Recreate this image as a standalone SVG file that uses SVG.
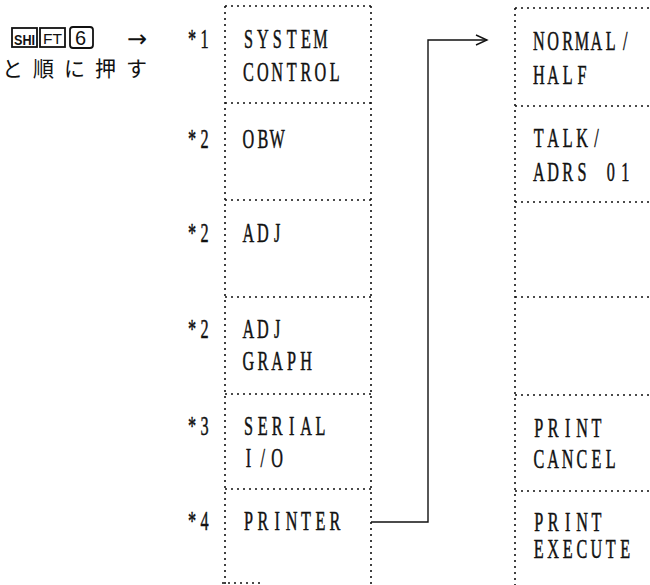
<svg xmlns="http://www.w3.org/2000/svg" width="650" height="585" viewBox="0 0 650 585">
<defs>
<style>
.dot{fill:none;stroke:#111;stroke-width:1.6;stroke-dasharray:2 4}
.t{font-family:"Liberation Serif",serif;font-size:27px;fill:#111;stroke:#111;stroke-width:0.5;text-anchor:middle}
.jp{font-family:"Noto Sans CJK JP",sans-serif;font-size:21px;fill:#111;letter-spacing:10px}
.key{fill:none;stroke:#111;stroke-width:1.8}
.kt{font-family:"Liberation Sans",sans-serif;fill:#111}
.conn{fill:none;stroke:#111;stroke-width:1.4}
</style>
<marker id="arr" markerWidth="14" markerHeight="12" refX="12" refY="6" orient="auto" markerUnits="userSpaceOnUse">
<path d="M1,1 L12,6 L1,11" fill="none" stroke="#111" stroke-width="1.4"/>
</marker>
</defs>
<rect width="650" height="585" fill="#fff"/>

<g id="instruction">
<rect class="key" x="12" y="28" width="25" height="19"/>
<text class="kt" x="14" y="45" font-size="14" font-weight="bold" textLength="21" lengthAdjust="spacingAndGlyphs">SHI</text>
<rect class="key" x="40" y="28" width="25" height="19"/>
<text class="kt" x="43" y="44" font-size="14" textLength="19" lengthAdjust="spacingAndGlyphs">FT</text>
<rect class="key" x="70" y="27" width="23" height="21" rx="3"/>
<text class="kt" x="75" y="45" font-size="20">6</text>
<text x="127" y="47" font-family="DejaVu Sans, sans-serif" font-size="24" fill="#111">→</text>
<text class="jp" x="2" y="76">と順に押す</text>
</g>

<g id="col-left">
<path class="dot" d="M225,6 H371 M225,6 V585 M371,6 V585 M225,103 H371 M225,200 H371 M225,297 H371 M225,394 H371 M225,489 H371 M222,583 H262"/>
</g>

<g id="n1"><g transform="scale(0.6,1)">
<text class="t" x="320 341" y="48">*1</text>
<text class="t" x="414 438 462 486 510 534" y="48">SYSTEM</text>
<text class="t" x="414 438 462 486 510 534 558" y="81">CONTROL</text>
</g></g>
<g id="n2"><g transform="scale(0.6,1)">
<text class="t" x="320 341" y="148">*2</text>
<text class="t" x="414 438 462" y="148">OBW</text>
</g></g>
<g id="n3"><g transform="scale(0.6,1)">
<text class="t" x="320 341" y="242">*2</text>
<text class="t" x="414 438 462" y="242">ADJ</text>
</g></g>
<g id="n4"><g transform="scale(0.6,1)">
<text class="t" x="320 341" y="338">*2</text>
<text class="t" x="414 438 462" y="338">ADJ</text>
<text class="t" x="414 438 462 486 510" y="370">GRAPH</text>
</g></g>
<g id="n5"><g transform="scale(0.6,1)">
<text class="t" x="320 341" y="435">*3</text>
<text class="t" x="414 438 462 486 510 534" y="435">SERIAL</text>
<text class="t" x="414 438 462" y="467">I/O</text>
</g></g>
<g id="n6"><g transform="scale(0.6,1)">
<text class="t" x="320 341" y="530">*4</text>
<text class="t" x="414 438 462 486 510 534 558" y="530">PRINTER</text>
</g></g>

<g id="col-right">
<path class="dot" d="M515,8 H650 M515,8 V585 M515,106 H650 M515,202 H650 M515,297 H650 M515,395 H650 M515,491 H650"/>
</g>
<g id="r1"><g transform="scale(0.6,1)">
<text class="t" x="898 922 946 970 994 1018 1042" y="50">NORMAL/</text>
<text class="t" x="898 922 946 970" y="84">HALF</text>
</g></g>
<g id="r2"><g transform="scale(0.6,1)">
<text class="t" x="898 922 946 970 994" y="147">TALK/</text>
<text class="t" x="898 922 946 970 994 1018 1042" y="181">ADRS 01</text>
</g></g>
<g id="r3"></g>
<g id="r4"></g>
<g id="r5"><g transform="scale(0.6,1)">
<text class="t" x="898 922 946 970 994" y="437">PRINT</text>
<text class="t" x="898 922 946 970 994 1018" y="468">CANCEL</text>
</g></g>
<g id="r6"><g transform="scale(0.6,1)">
<text class="t" x="898 922 946 970 994" y="531">PRINT</text>
<text class="t" x="898 922 946 970 994 1018 1042" y="558">EXECUTE</text>
</g></g>

<g id="connectors">
<path class="conn" d="M371,522 H428 V40 H487" marker-end="url(#arr)"/>
</g>
</svg>
